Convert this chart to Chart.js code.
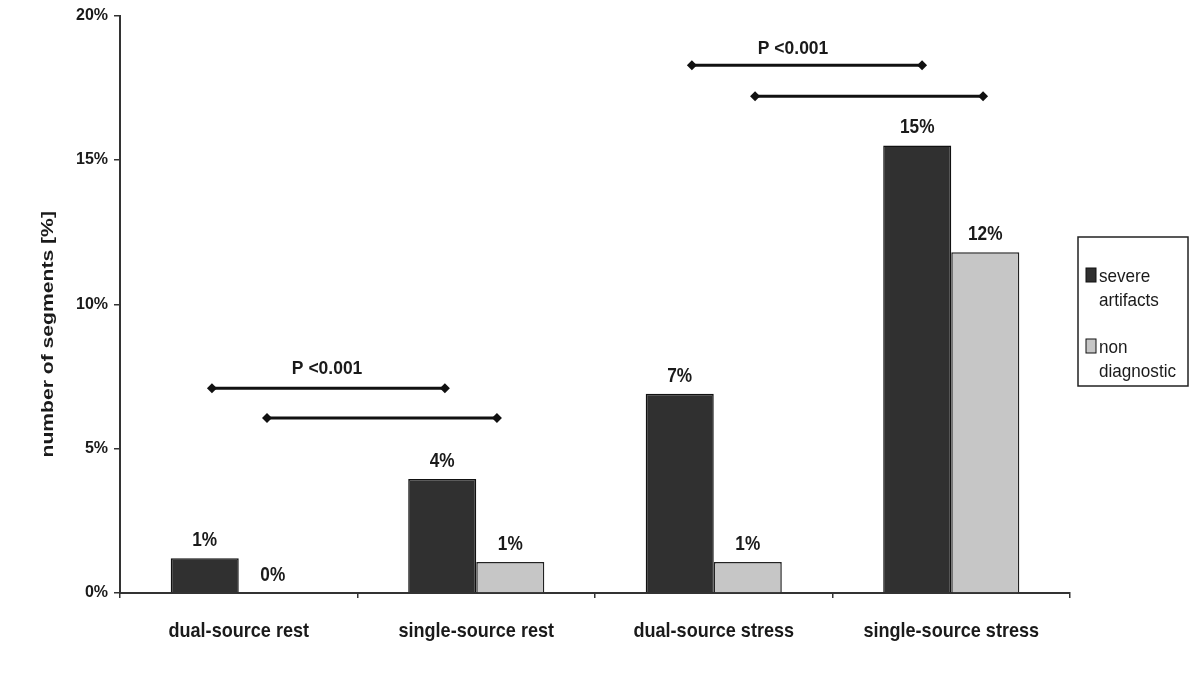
<!DOCTYPE html>
<html>
<head>
<meta charset="utf-8">
<script src="https://cdn.jsdelivr.net/npm/chart.js@4"></script>
<style>
  html, body { margin: 0; padding: 0; background: #fff; }
  #wrap { width: 1200px; height: 686px; }
</style>
</head>
<body>
<div id="wrap"><canvas id="barChartDiv" width="1200" height="686"></canvas></div>
<script>
var categories = ["dual-source rest", "single-source rest", "dual-source stress", "single-source stress"];
var severeValues = [1.2, 3.95, 6.9, 15.5];
var nonDiagValues = [0, 1.07, 1.07, 11.8];
var severeLabels = ["1%", "4%", "7%", "15%"];
var nonDiagLabels = ["0%", "1%", "1%", "12%"];
var yTicks = [0, 5, 10, 15, 20];

// significance brackets, in category index / percent units
var bracketFrom = [-0.113, 0.119, 1.908, 2.174];
var bracketTo = [0.868, 1.087, 2.877, 3.134];
var bracketY = [7.09, 6.06, 18.28, 17.21];
var pLabelX = [0.372, 2.334];
var pLabelY = [7.78, 18.86];
var pLabelText = ["P <0.001", "P <0.001"];

var FONT = "'Liberation Sans', Arial, sans-serif";

// the reference text is tall and narrow, so squeeze it horizontally
function squeezeText(ctx, text, x, y, font, sx) {
	ctx.save();
	ctx.translate(x, y);
	ctx.scale(sx, 1);
	ctx.font = font;
	ctx.fillText(text, 0, 0);
	ctx.restore();
}

var extrasPlugin = {
	id: 'extras',
	afterDatasetsDraw: function(chart) {
		var ctx = chart.ctx;
		var x = chart.scales.x, y = chart.scales.y;
		ctx.save();
		ctx.fillStyle = '#1a1a1a';
		ctx.textAlign = 'center';
		ctx.textBaseline = 'middle';
		// category labels
		categories.forEach(function(c, i) {
			squeezeText(ctx, c, x.getPixelForValue(i), 631, 'bold 21px ' + FONT, 0.86);
		});
		// value labels
		[severeLabels, nonDiagLabels].forEach(function(labels, di) {
			var meta = chart.getDatasetMeta(di);
			meta.data.forEach(function(bar, i) {
				squeezeText(ctx, labels[i], bar.x, bar.y - 18, 'bold 21px ' + FONT, 0.82);
			});
		});
		// brackets
		ctx.strokeStyle = '#111';
		ctx.fillStyle = '#111';
		ctx.lineWidth = 3;
		for (var i = 0; i < bracketFrom.length; i++) {
			var x1 = x.getPixelForValue(bracketFrom[i]);
			var x2 = x.getPixelForValue(bracketTo[i]);
			var yy = y.getPixelForValue(bracketY[i]);
			ctx.beginPath();
			ctx.moveTo(x1, yy);
			ctx.lineTo(x2, yy);
			ctx.stroke();
			[x1, x2].forEach(function(px) {
				ctx.beginPath();
				ctx.moveTo(px - 5, yy);
				ctx.lineTo(px, yy - 5);
				ctx.lineTo(px + 5, yy);
				ctx.lineTo(px, yy + 5);
				ctx.closePath();
				ctx.fill();
			});
		}
		ctx.fillStyle = '#1a1a1a';
		for (var j = 0; j < pLabelText.length; j++) {
			squeezeText(ctx, pLabelText[j], x.getPixelForValue(pLabelX[j]), y.getPixelForValue(pLabelY[j]), 'bold 19px ' + FONT, 0.92);
		}
		// y axis title
		ctx.save();
		ctx.translate(49, (chart.chartArea.top + chart.chartArea.bottom) / 2 + 30);
		ctx.rotate(-Math.PI / 2);
		squeezeText(ctx, 'number of segments [%]', 0, 0, 'bold 16px ' + FONT, 1.32);
		ctx.restore();
		// legend
		var lx = chart.chartArea.right + 8, ly = 237, lw = 110, lh = 149;
		ctx.strokeStyle = '#222';
		ctx.lineWidth = 1.5;
		ctx.strokeRect(lx, ly, lw, lh);
		ctx.textAlign = 'left';
		chart.data.datasets.forEach(function(ds, di) {
			var by = ly + 38 + di * 71;
			ctx.fillStyle = ds.backgroundColor;
			ctx.fillRect(lx + 8, by - 7, 10, 14);
			ctx.strokeStyle = '#111';
			ctx.lineWidth = 1;
			ctx.strokeRect(lx + 8, by - 7, 10, 14);
			ctx.fillStyle = '#1a1a1a';
			ds.label.split(' ').forEach(function(w, k) {
				squeezeText(ctx, w, lx + 21, by + 2 + k * 24, '19px ' + FONT, 0.9);
			});
		});
		ctx.restore();
	}
};

var barChart = new Chart(document.getElementById('barChartDiv'), {
	type: 'bar',
	data: {
		labels: categories,
		datasets: [
			{
				label: 'severe artifacts',
				data: severeValues,
				backgroundColor: '#303030',
				borderColor: '#111',
				borderWidth: 1.5
			},
			{
				label: 'non diagnostic',
				data: nonDiagValues,
				backgroundColor: '#c6c6c6',
				borderColor: '#222',
				borderWidth: 1.5
			}
		]
	},
	plugins: [extrasPlugin],
	options: {
		responsive: false,
		animation: false,
		layout: { padding: { top: 13, right: 130, left: 0, bottom: 0 } },
		datasets: { bar: { categoryPercentage: 0.573, barPercentage: 1.0 } },
		plugins: { legend: { display: false }, tooltip: { enabled: false } },
		scales: {
			x: {
				grid: { offset: true, drawOnChartArea: false, tickLength: 5, color: '#333', lineWidth: 1.5 },
				border: { color: '#333', width: 2 },
				ticks: { display: false },
				afterFit: function(scale) { scale.height = 93; }
			},
			y: {
				min: 0,
				max: 20,
				afterBuildTicks: function(scale) {
					scale.ticks = yTicks.map(function(v) { return { value: v }; });
				},
				grid: { drawOnChartArea: false, tickLength: 6, color: '#333', lineWidth: 1.5 },
				border: { color: '#333', width: 2 },
				ticks: {
					color: '#1a1a1a',
					font: { family: FONT, size: 16, weight: 'bold' },
					padding: 6,
					callback: function(v) { return v + '%'; }
				},
				afterFit: function(scale) { scale.width = 120; }
			}
		}
	}
});
</script>
</body>
</html>
